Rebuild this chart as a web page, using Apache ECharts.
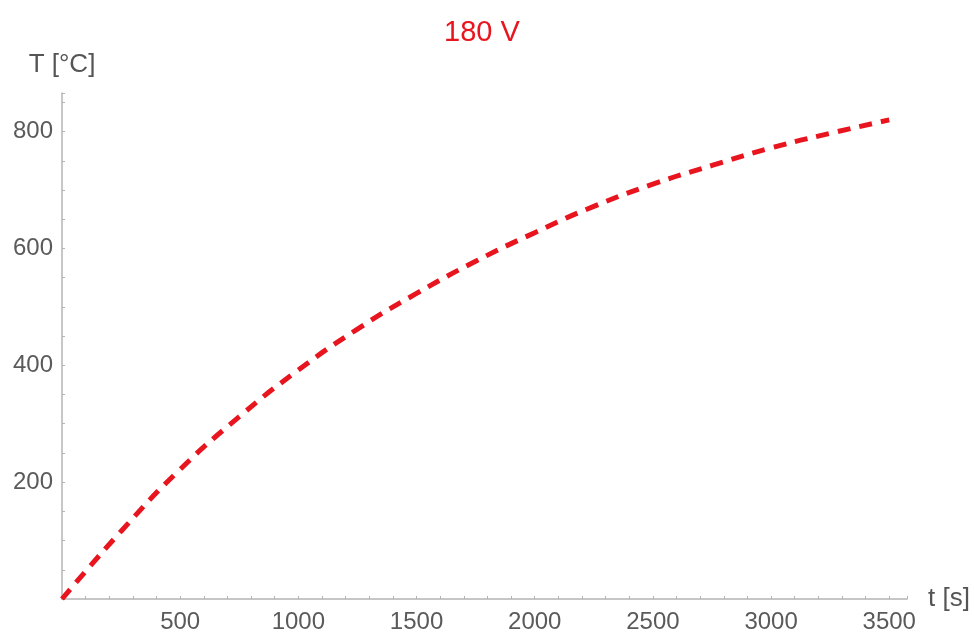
<!DOCTYPE html>
<html>
<head>
<meta charset="utf-8">
<script src="https://cdn.jsdelivr.net/npm/echarts@6/dist/echarts.min.js"></script>
<style>html,body{margin:0;padding:0;background:#fff}#c{width:974px;height:636px}</style>
</head>
<body>
<div id="c"></div>
<script>
var titleText = '180 V';
var xName = 't [s]';
var yName = 'T [°C]';
var timeS = [0, 250, 500, 750, 1000, 1250, 1500, 1750, 2000, 2250, 2500, 2750, 3000, 3250, 3500];
var tempC = [0, 116, 222, 312, 392, 462, 523, 578, 627, 672, 710, 742, 772, 797, 820];
var xTickLabels = [500, 1000, 1500, 2000, 2500, 3000, 3500];
var yTickLabels = [200, 400, 600, 800];

var chart = echarts.init(document.getElementById('c'));
var fontFam = 'Liberation Sans, Arial, sans-serif';
chart.setOption({
  animation: false,
  title: {
    text: titleText, left: 477, top: 13, textAlign: 'center',
    textStyle: { color: '#e8141e', fontSize: 29, fontWeight: 'normal', fontFamily: fontFam }
  },
  grid: { left: 62, right: 67, top: 93, bottom: 37, containLabel: false },
  xAxis: {
    type: 'value', min: 0, max: 3575, interval: 100,
    name: xName, nameLocation: 'end', nameGap: 21,
    nameTextStyle: { color: '#555', fontSize: 26, fontFamily: fontFam, verticalAlign: 'middle' },
    axisLine: { show: true, onZero: false, lineStyle: { color: '#b4b4b4', width: 1.5 } },
    axisTick: { show: true, inside: true, length: 3, lineStyle: { color: '#b4b4b4' } },
    splitLine: { show: false },
    axisLabel: {
      color: '#5a5a5a', fontSize: 24, fontFamily: fontFam, margin: 11,
      formatter: function (v) { return xTickLabels.indexOf(v) >= 0 ? String(v) : ''; }
    }
  },
  yAxis: {
    type: 'value', min: 0, max: 866, interval: 50,
    name: yName, nameLocation: 'end', nameGap: 15,
    nameTextStyle: { color: '#555', fontSize: 26, fontFamily: fontFam, align: 'center' },
    axisLine: { show: true, onZero: false, lineStyle: { color: '#b4b4b4', width: 1.5 } },
    axisTick: { show: true, inside: true, length: 3, lineStyle: { color: '#b4b4b4' } },
    splitLine: { show: false },
    axisLabel: {
      color: '#5a5a5a', fontSize: 24, fontFamily: fontFam, margin: 9,
      formatter: function (v) { return yTickLabels.indexOf(v) >= 0 ? String(v) : ''; }
    }
  },
  series: [{
    type: 'line', smooth: true, symbol: 'none',
    data: timeS.map(function (t, i) { return [t, tempC[i]]; }),
    lineStyle: { color: '#e8141e', width: 5, type: [13, 9] }
  }]
});
</script>
</body>
</html>
